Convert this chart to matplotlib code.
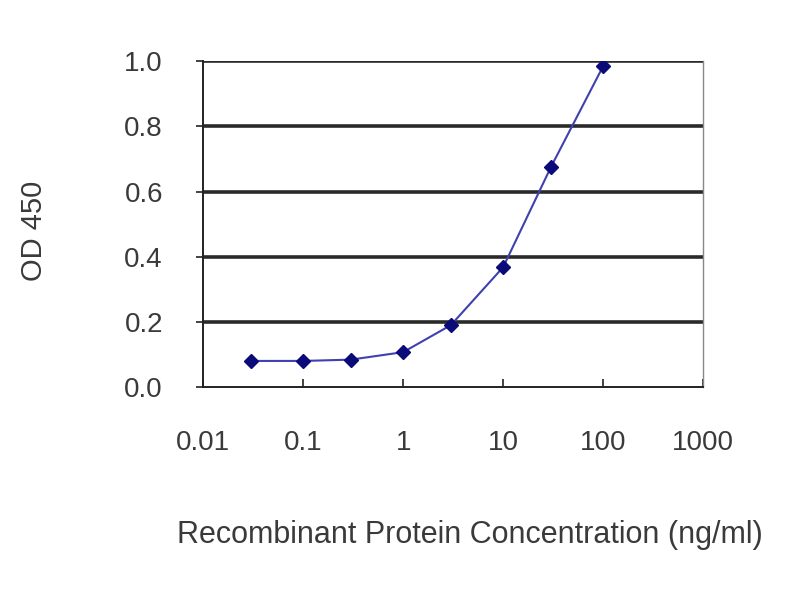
import matplotlib
matplotlib.use("Agg")
import matplotlib.pyplot as plt
from matplotlib.ticker import FixedLocator, FixedFormatter, NullLocator

conc = [0.03, 0.1, 0.3, 1, 3, 10, 30, 100]
od = [0.080, 0.080, 0.084, 0.107, 0.190, 0.368, 0.675, 0.985]
xticks = [0.01, 0.1, 1, 10, 100, 1000]
xticklabels = ["0.01", "0.1", "1", "10", "100", "1000"]
yticks = [0.0, 0.2, 0.4, 0.6, 0.8, 1.0]
yticklabels = ["0.0", "0.2", "0.4", "0.6", "0.8", "1.0"]

plt.rcParams['font.family'] = ['Liberation Sans', 'DejaVu Sans']
txt = '#3a3a3a'

fig = plt.figure(figsize=(8, 6), dpi=100)
ax = fig.add_axes([0.254, 0.355, 0.625, 0.543])
ax.set_xscale('log')
ax.set_xlim(0.01, 1000)
ax.set_ylim(0, 1.0)

for yv in yticks[1:]:
    ax.axhline(yv, color='#2a2a2a', lw=2.6, zorder=1)

ax.plot(conc, od, color='#4040b0', lw=1.5, zorder=2)
ax.plot(conc, od, linestyle='none', marker='D', markersize=7.5,
        color='#0a0a78', zorder=3)

ax.xaxis.set_major_locator(FixedLocator(xticks))
ax.xaxis.set_major_formatter(FixedFormatter(xticklabels))
ax.xaxis.set_minor_locator(NullLocator())
ax.yaxis.set_major_locator(FixedLocator(yticks))
ax.yaxis.set_major_formatter(FixedFormatter(yticklabels))

ax.tick_params(axis='x', direction='in', length=6, width=1.2, pad=31,
               labelsize=20, labelcolor=txt, color='#222222')
ax.tick_params(axis='y', direction='out', length=5, width=1.2, pad=24,
               labelsize=20, labelcolor=txt, color='#222222')

for s in ['left', 'bottom']:
    ax.spines[s].set_color('#222222')
    ax.spines[s].set_linewidth(1.4)
ax.spines['right'].set_color('#888888')
ax.spines['right'].set_linewidth(1.0)
ax.spines['top'].set_visible(False)

fig.text(0.5875, 0.108, 'Recombinant Protein Concentration (ng/ml)',
         ha='center', va='center', fontsize=22, color=txt)
fig.text(0.042, 0.615, 'OD 450', ha='center', va='center',
         rotation=90, fontsize=21, color=txt)

fig.savefig('out.png', dpi=100)
